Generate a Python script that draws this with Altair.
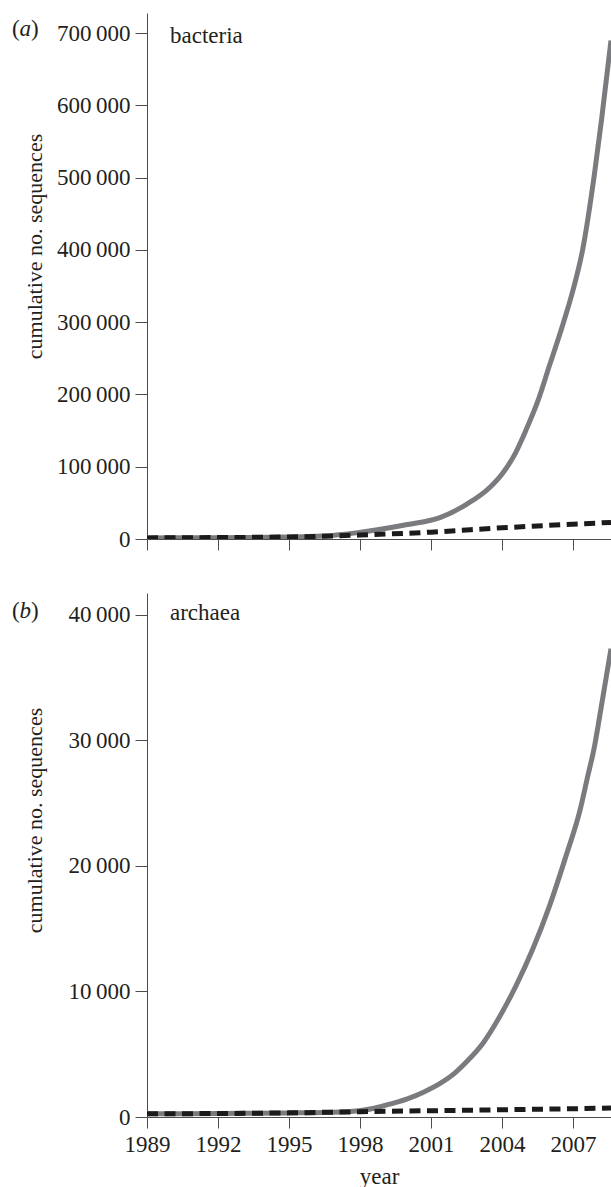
import altair as alt
import pandas as pd

# ---- data ----
bact_years = [1989.0, 1991.0, 1993.0, 1995.0, 1996.4, 1997.9, 1998.6, 2000.0, 2001.4,
              2002.5, 2003.5, 2004.0, 2004.5, 2005.0, 2005.5, 2006.0, 2006.5, 2007.0,
              2007.4, 2007.9, 2008.2, 2008.6]
bact_total = [1500, 1700, 2000, 2600, 4000, 8800, 12000, 20000, 30000,
              48000, 72000, 90000, 115000, 150000, 190000, 240000, 290000, 345000,
              400000, 505000, 580000, 690000]
bact_dash_years = [1989, 1992, 1995, 1998, 2001, 2004, 2007, 2008.6]
bact_dash = [1500, 2000, 2800, 5500, 9500, 15500, 20500, 23000]

arch_years = [1989.0, 1992.0, 1995.0, 1997.2, 1998.6, 1999.3, 2000.0, 2000.7, 2001.4,
              2002.0, 2002.5, 2003.2, 2003.9, 2004.6, 2005.3, 2006.0, 2006.7, 2007.3,
              2007.6, 2007.9, 2008.2, 2008.6]
arch_total = [250, 280, 320, 400, 700, 1050, 1450, 2000, 2700,
              3500, 4400, 5900, 8000, 10500, 13400, 16800, 20800, 24500,
              27000, 29500, 32800, 37300]
arch_dash_years = [1989, 1995, 1998, 2001, 2004, 2007, 2008.6]
arch_dash = [250, 330, 420, 500, 580, 660, 720]

x_ticks = [1989, 1992, 1995, 1998, 2001, 2004, 2007]
bact_ticks = [0, 100000, 200000, 300000, 400000, 500000, 600000, 700000]
arch_ticks = [0, 10000, 20000, 30000, 40000]

FONT = "Liberation Serif"
TXT = "#231f20"
AX = "#4d4d4d"
W = 464
XDOM = [1989, 2008.6]
LABEL_EXPR = "replace(format(datum.value, ','), ',', '\u2009')"


def panel(years, total, dyears, dash, ymax, yticks, show_x, tag, name,
          title_y, h, tag_base, name_base):
    solid_df = pd.DataFrame({"year": years, "v": total})
    dash_df = pd.DataFrame({"year": dyears, "v": dash})

    if show_x:
        xax = alt.Axis(values=x_ticks, tickSize=11, labels=True, format="d",
                       title="year", titleY=66, titleBaseline="alphabetic",
                       titleFontSize=23, grid=False, labelFlush=False,
                       labelOverlap=False, labelPadding=5)
    else:
        xax = alt.Axis(values=x_ticks, tickSize=11, labels=False, title="",
                       grid=False)
    yax = alt.Axis(values=yticks, tickSize=12, labelPadding=5, labelExpr=LABEL_EXPR,
                   title="cumulative no. sequences", titleX=-113, titleY=title_y,
                   titleBaseline="middle", grid=False, labelFlush=False,
                   labelOverlap=False)

    x = alt.X("year:Q", scale=alt.Scale(domain=XDOM, nice=False, zero=False), axis=xax)
    y = alt.Y("v:Q", scale=alt.Scale(domain=[0, ymax], nice=False), axis=yax)

    solid = alt.Chart(solid_df).mark_line(
        color="#7a7b7e", strokeWidth=5, interpolate="monotone", clip=True
    ).encode(x=x, y=y)
    dashed = alt.Chart(dash_df).mark_line(
        color="#1c1a1b", strokeWidth=5, strokeDash=[11, 6.5], interpolate="monotone",
        clip=True
    ).encode(x="year:Q", y="v:Q")

    one = pd.DataFrame({"t": [0]})

    def txt(s, xv, yv, italic=False, size=23):
        m = alt.Chart(one).mark_text(
            font=FONT, fontSize=size, color=TXT, align="left", baseline="alphabetic",
            fontStyle="italic" if italic else "normal", text=s
        )
        return m.encode(x=alt.value(xv), y=alt.value(yv))

    labels = [
        txt("(", -135, tag_base),
        txt(tag, -127.5, tag_base, italic=True),
        txt(")", -116, tag_base),
        txt(name, 23, name_base),
    ]
    return alt.layer(solid, dashed, *labels).properties(width=W, height=h)


top = panel(bact_years, bact_total, bact_dash_years, bact_dash, 728000, bact_ticks,
            False, "a", "bacteria", 233, 526, 23, 30)
bottom = panel(arch_years, arch_total, arch_dash_years, arch_dash, 41740, arch_ticks,
               True, "b", "archaea", 227, 524, 25, 27)

chart = alt.vconcat(top, bottom, spacing=54, bounds="flush").properties(
    padding={"left": 12, "top": 13, "right": 0, "bottom": 0}
).configure_view(strokeWidth=0).configure_axis(
    domainColor=AX, tickColor=AX, domainWidth=1, tickWidth=1,
    labelFont=FONT, labelFontSize=23, labelColor=TXT,
    titleFont=FONT, titleFontSize=22, titleColor=TXT, titleFontWeight="normal",
)

chart.save("out.html", embed_options={"renderer": "svg", "actions": False})
